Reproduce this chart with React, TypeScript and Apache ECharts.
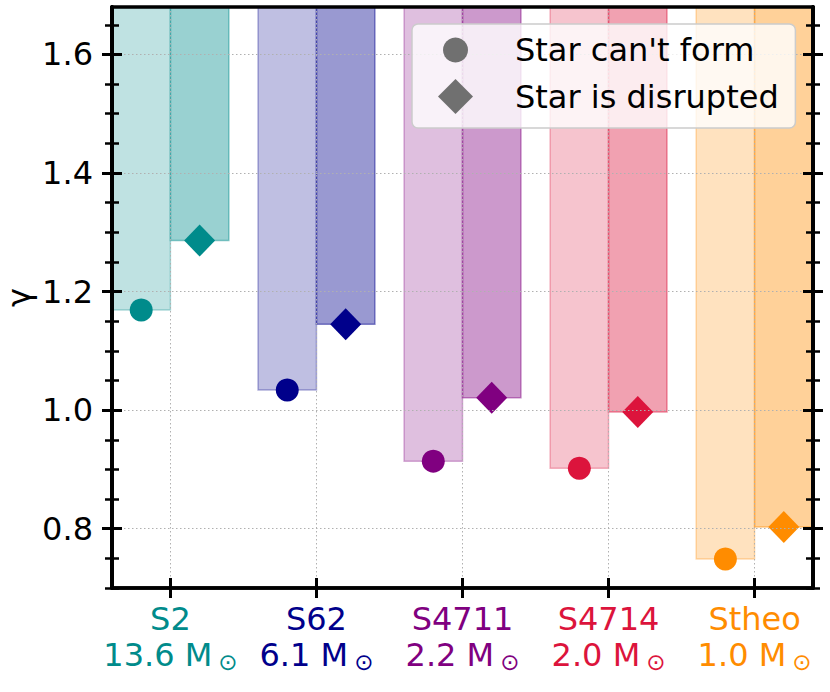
import React, { useEffect, useRef } from "react";
import * as echarts from "echarts";

const CATEGORIES = ["S2", "S62", "S4711", "S4714", "Stheo"];
const MASSES = ["13.6", "6.1", "2.2", "2.0", "1.0"];
const CANT_FORM = [1.169, 1.034, 0.914, 0.902, 0.749];
const DISRUPTED = [1.286, 1.145, 1.021, 0.997, 0.803];
const COLORS = ["#008b8b", "#00008b", "#800080", "#dc143c", "#ff8c00"];
const Y_MAJOR = [0.8, 1.0, 1.2, 1.4, 1.6];
const Y_MINOR = [0.7, 0.75, 0.85, 0.9, 0.95, 1.05, 1.1, 1.15, 1.25, 1.3, 1.35, 1.45, 1.5, 1.55, 1.65];
const X_TICKS = [0, 1, 2, 3, 4];
const Y_MIN = 0.7;
const Y_MAX = 1.68;
const X_MIN = -0.4;
const X_MAX = 4.4;
const HALF = 0.4;

const FONT = "DejaVu Sans";

function rgba(hex: string, a: number) {
  const n = parseInt(hex.slice(1), 16);
  return `rgba(${(n >> 16) & 255},${(n >> 8) & 255},${n & 255},${a})`;
}

export default function App() {
  const ref = useRef<HTMLDivElement>(null);
  useEffect(() => {
    const chart = echarts.init(ref.current!, null, { renderer: "svg" });

    const axisLine = { show: true, onZero: false, lineStyle: { color: "#000", width: 3.5 } };
    const mkY = (position: string, values: number[], inside: boolean, len: number, w: number, extra: any = {}) => ({
      type: "value",
      position,
      min: Y_MIN,
      max: Y_MAX,
      z: 5,
      axisLine,
      axisTick: { show: true, customValues: values, inside, length: len, lineStyle: { color: "#000", width: w } },
      axisLabel: { show: false },
      splitLine: { show: false },
      ...extra,
    });

    const rich: any = {};
    CATEGORIES.forEach((_, i) => {
      rich["n" + i] = { color: COLORS[i], fontSize: 32, fontFamily: FONT, lineHeight: 36 };
      rich["m" + i] = { color: COLORS[i], fontSize: 32, fontFamily: FONT, lineHeight: 36 };
      rich["o" + i] = {
        color: COLORS[i],
        fontSize: 23,
        fontFamily: FONT,
        lineHeight: 20,
        verticalAlign: "bottom",
        padding: [0, 0, 0, 6],
      };
    });

    const barSeries = (name: string, values: number[], left: boolean, alpha: number, edgeAlpha: number) => ({
      type: "custom",
      name,
      clip: true,
      z: 2,
      data: values.map((v, i) => (left ? [i - HALF, i, v] : [i, i + HALF, v])),
      renderItem: (params: any, api: any) => {
        const i = params.dataIndex;
        const p0 = api.coord([api.value(0), Y_MAX]);
        const p1 = api.coord([api.value(1), api.value(2)]);
        return {
          type: "rect",
          shape: { x: p0[0], y: p0[1], width: p1[0] - p0[0], height: p1[1] - p0[1] },
          style: { fill: rgba(COLORS[i], alpha), stroke: rgba(COLORS[i], edgeAlpha), lineWidth: 1.5 },
        };
      },
    });

    const option: any = {
      animation: false,
      textStyle: { fontFamily: FONT },
      grid: { left: 112, right: 17, top: 7, bottom: 104, containLabel: false, outerBoundsMode: "none" },
      legend: [
        {
          data: [{ name: "Star can't form", icon: "circle", itemStyle: { color: "#707070" } }],
          left: 412,
          top: 24,
          orient: "vertical",
          itemWidth: 25,
          itemHeight: 25,
          padding: [10, 41, 62, 31],
          backgroundColor: "rgba(255,255,255,0.8)",
          borderColor: "#cccccc",
          borderWidth: 1.5,
          borderRadius: 6,
          z: 20,
          selectedMode: false,
          textStyle: { fontSize: 32, color: "#000", fontFamily: FONT, padding: [0, 0, 0, 42] },
        },
        {
          data: [{ name: "Star is disrupted", icon: "diamond", itemStyle: { color: "#707070" } }],
          left: 438,
          top: 79,
          orient: "vertical",
          itemWidth: 35,
          itemHeight: 35,
          padding: 0,
          z: 21,
          selectedMode: false,
          textStyle: { fontSize: 32, color: "#000", fontFamily: FONT, padding: [0, 0, 0, 37] },
        },
      ],
      xAxis: [
        {
          type: "value",
          position: "bottom",
          min: X_MIN,
          max: X_MAX,
          z: 5,
          axisLine,
          axisTick: { show: true, customValues: X_TICKS, inside: false, length: 10, lineStyle: { color: "#000", width: 3 } },
          axisLabel: {
            show: true,
            customValues: X_TICKS,
            margin: 13,
            formatter: (v: number) => {
              const i = Math.round(v);
              return `{n${i}|${CATEGORIES[i]}}\n{m${i}|${MASSES[i]} M}{o${i}|⊙}`;
            },
            rich,
          },
          splitLine: { show: true, lineStyle: { color: "#b0b0b0", type: [1.5, 2.5], width: 1 } },
        },
        {
          type: "value",
          position: "bottom",
          min: X_MIN,
          max: X_MAX,
          z: 5,
          axisLine,
          axisTick: { show: true, customValues: X_TICKS, inside: true, length: 10, lineStyle: { color: "#000", width: 3 } },
          axisLabel: { show: false },
          splitLine: { show: false },
        },
        {
          type: "value",
          position: "top",
          min: X_MIN,
          max: X_MAX,
          z: 5,
          axisLine,
          axisTick: { show: false },
          axisLabel: { show: false },
          splitLine: { show: false },
        },
      ],
      yAxis: [
        mkY("left", Y_MAJOR, false, 10, 3, {
          axisLabel: {
            show: true,
            customValues: Y_MAJOR,
            margin: 19,
            fontSize: 32,
            color: "#000",
            fontFamily: FONT,
            formatter: (v: number) => v.toFixed(1),
          },
          splitLine: { show: true, lineStyle: { color: "#b0b0b0", type: [1.5, 2.5], width: 1 } },
          name: "γ",
          nameLocation: "middle",
          nameGap: 77,
          nameMoveOverlap: false,
          nameTextStyle: { fontSize: 32, color: "#000", fontFamily: FONT },
        }),
        mkY("left", Y_MAJOR, true, 10, 3),
        mkY("left", Y_MINOR, false, 7, 2.5),
        mkY("left", Y_MINOR, true, 7, 2.5),
        mkY("right", Y_MAJOR, false, 10, 3),
        mkY("right", Y_MAJOR, true, 10, 3),
        mkY("right", Y_MINOR, false, 7, 2.5),
        mkY("right", Y_MINOR, true, 7, 2.5),
      ],
      series: [
        barSeries("cant-form-region", CANT_FORM, true, 0.25, 0.3),
        barSeries("disrupted-region", DISRUPTED, false, 0.4, 0.45),
        {
          type: "scatter",
          name: "Star can't form",
          symbol: "circle",
          symbolSize: 23,
          z: 4,
          itemStyle: { opacity: 1 },
          data: CANT_FORM.map((v, i) => ({ value: [i - HALF / 2, v], itemStyle: { color: COLORS[i], opacity: 1 } })),
        },
        {
          type: "scatter",
          name: "Star is disrupted",
          symbol: "diamond",
          symbolSize: [31, 32],
          z: 4,
          itemStyle: { opacity: 1 },
          data: DISRUPTED.map((v, i) => ({ value: [i + HALF / 2, v], itemStyle: { color: COLORS[i], opacity: 1 } })),
        },
      ],
    };
    chart.setOption(option);
    return () => chart.dispose();
  }, []);
  return <div ref={ref} style={{ position: "fixed", left: 0, top: 0, width: 830, height: 692, background: "#fff" }} />;
}
